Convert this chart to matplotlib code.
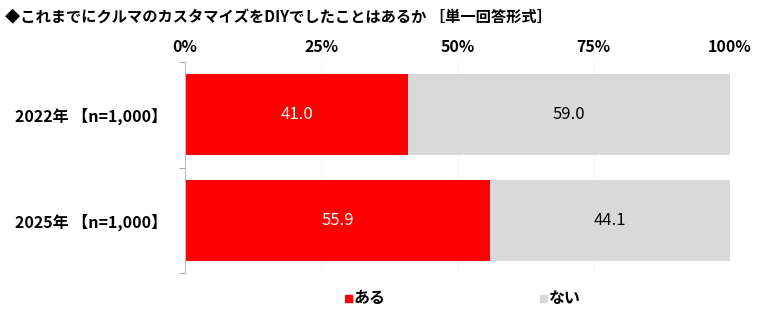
import matplotlib
matplotlib.use("Agg")
import matplotlib.pyplot as plt
from matplotlib.patches import Rectangle

plt.rcParams['font.family'] = ['Noto Sans CJK JP', 'DejaVu Sans']

categories = ['2022年 【n=1,000】', '2025年 【n=1,000】']
aru = [41.0, 55.9]
nai = [59.0, 44.1]
series_names = ['ある', 'ない']
xticks = [0, 25, 50, 75, 100]
xtick_labels = ['0%', '25%', '50%', '75%', '100%']
title = '◆これまでにクルマのカスタマイズをDIYでしたことはあるか ［単一回答形式］'

red = '#FF0000'
gray = '#D9D9D9'

fig = plt.figure(figsize=(7.6, 3.17), dpi=100)
ax = fig.add_axes([185/760, 1-273/317, 545/760, 211/317])

y = list(range(len(categories)))
ax.barh(y, aru, height=0.77, color=red, zorder=2)
ax.barh(y, nai, left=aru, height=0.77, color=gray, zorder=2)

for i in y:
    ax.text(aru[i]/2, i, f'{aru[i]:.1f}', color='white', ha='center', va='center', fontsize=12)
    ax.text(aru[i] + nai[i]/2, i, f'{nai[i]:.1f}', color='black', ha='center', va='center', fontsize=12)

ax.set_xlim(0, 100)
ax.set_ylim(1.5, -0.5)
ax.xaxis.tick_top()
ax.set_xticks(xticks)
ax.set_xticklabels(xtick_labels, fontsize=11.5, fontweight='bold')
ax.tick_params(axis='x', length=0, pad=5)
ax.grid(axis='x', color='#F2F2F2', linewidth=0.8, zorder=0)

ax.set_yticks(y)
ax.set_yticklabels(categories, fontsize=11.5, fontweight='bold')
ax.tick_params(axis='y', length=0, pad=13)
ax.set_yticks([-0.5, 0.5, 1.5], minor=True)
ax.tick_params(axis='y', which='minor', length=4, color='#999999')

for s in ['top', 'right', 'bottom']:
    ax.spines[s].set_visible(False)
ax.spines['left'].set_color('#BBBBBB')

fig.text(5/760, 1-17/317, title, fontsize=11, fontweight='bold', va='center', ha='left')

# legend
for x0, name, c in [(345, series_names[0], red), (540, series_names[1], gray)]:
    fig.patches.append(Rectangle((x0/760, 1-302/317), 7/760, 7/317, color=c, transform=fig.transFigure, figure=fig))
    fig.text((x0+9)/760, 1-298/317, name, fontsize=11.5, fontweight='bold', va='center', ha='left')

fig.savefig('out.png', dpi=100)
